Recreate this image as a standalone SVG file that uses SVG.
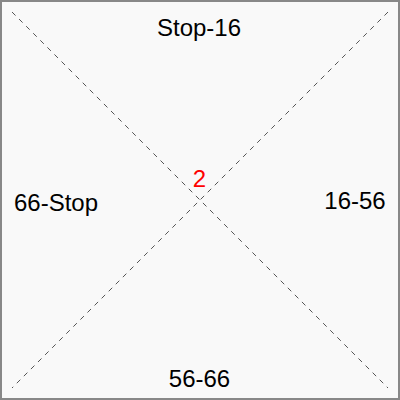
<svg xmlns="http://www.w3.org/2000/svg" width="400" height="400" viewBox="0 0 400 400">
<style>
.lbl{font-family:"Liberation Sans",Arial,sans-serif;font-size:24px;fill:#000;text-anchor:middle}
.diag{stroke:#555;stroke-width:1;stroke-dasharray:5,5;fill:none}
</style>
<rect x="1" y="1" width="398" height="398" fill="#f9f9f9" stroke="#888" stroke-width="2"/>
<g id="connectors">
<line class="diag" x1="12" y1="12" x2="388" y2="388"/>
<line class="diag" x1="388" y1="12" x2="12" y2="388"/>
</g>
<g id="top"><text class="lbl" x="199" y="36">Stop-16</text></g>
<g id="right"><text class="lbl" x="355" y="209">16-56</text></g>
<g id="bottom"><text class="lbl" x="199.5" y="387">56-66</text></g>
<g id="left"><text class="lbl" x="56" y="211">66-Stop</text></g>
<g id="center"><text class="lbl" x="199.5" y="187" style="fill:#f00">2</text></g>
</svg>
